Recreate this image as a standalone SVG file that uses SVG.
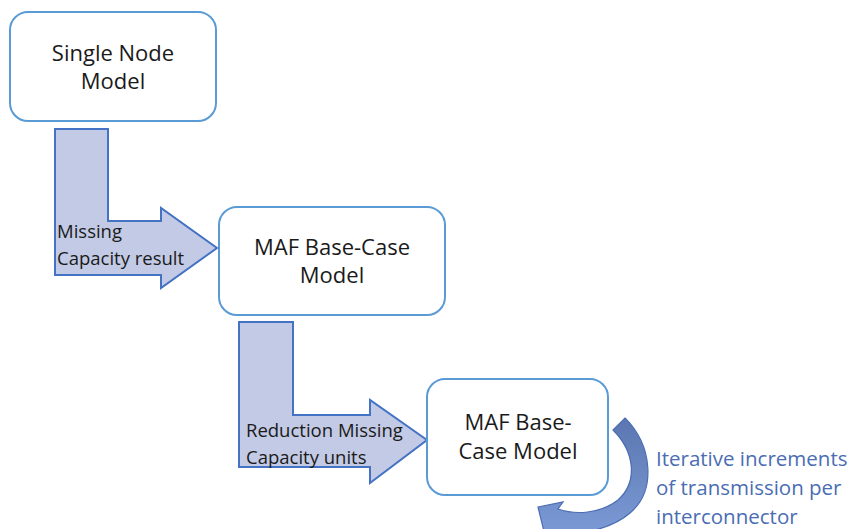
<svg xmlns="http://www.w3.org/2000/svg" width="851" height="529" viewBox="0 0 851 529">
<defs>
<style>
.box{fill:#fff;stroke:#5b9bd5;stroke-width:2}
.t{font-family:"Open Sans","Liberation Sans",sans-serif;font-size:22px;fill:#1a1a1a;text-anchor:middle}
.bent{fill:#c2cae5;stroke:#4472c4;stroke-width:2;stroke-linejoin:miter}
.lbl{font-family:"Open Sans","Liberation Sans",sans-serif;font-size:18.5px;fill:#1a1a1a}
.note{font-family:"Open Sans","Liberation Sans",sans-serif;font-size:20.5px;fill:#4a6db3}
</style>
<linearGradient id="cg" x1="0" y1="0" x2="0" y2="1">
<stop offset="0" stop-color="#5b76b0"/>
<stop offset="1" stop-color="#7f9fda"/>
</linearGradient>
</defs>
<rect width="851" height="529" fill="#fff"/>
<g id="connectors">
<path class="bent" d="M55,129 H108 V221 H161 V208 L217,248 L161,288 V275 H55 Z"/>
<path class="bent" d="M239,322 H293 V415 H370 V400 L427,440 L370,483 V467 H239 Z"/>
<path d="M538,507 L563,502 L558,509 C575,515 600,514 618,500 C638,482 635,452 613,430 L625,418 C652,445 657,490 630,513 C615,526 595,531 578,533 L548,548 Z" fill="url(#cg)" stroke="#4a6db3" stroke-width="1.2" stroke-linejoin="miter"/>
</g>
<g id="label-missing">
<text class="lbl" x="57" y="238">Missing</text>
<text class="lbl" x="57" y="265">Capacity result</text>
</g>
<g id="label-reduction">
<text class="lbl" x="246" y="437">Reduction Missing</text>
<text class="lbl" x="246" y="464">Capacity units</text>
</g>
<g id="node-single">
<rect class="box" x="10" y="12" width="206" height="109" rx="18"/>
<text class="t" x="113" y="61">Single Node</text>
<text class="t" x="113" y="89">Model</text>
</g>
<g id="node-maf1">
<rect class="box" x="219" y="207" width="226" height="108" rx="18"/>
<text class="t" x="332" y="255">MAF Base-Case</text>
<text class="t" x="332" y="283">Model</text>
</g>
<g id="node-maf2">
<rect class="box" x="427" y="379" width="181" height="116" rx="18"/>
<text class="t" x="518" y="430">MAF Base-</text>
<text class="t" x="518" y="459">Case Model</text>
</g>
<g id="note">
<text class="note" x="656" y="466">Iterative increments</text>
<text class="note" x="656" y="495">of transmission per</text>
<text class="note" x="656" y="524">interconnector</text>
</g>
</svg>
